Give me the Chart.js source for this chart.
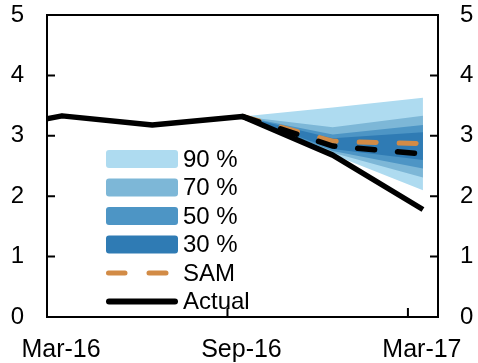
<!DOCTYPE html>
<html>
<head>
<meta charset="utf-8">
<script src="https://cdn.jsdelivr.net/npm/chart.js@4/dist/chart.umd.min.js"></script>
<style>
  html, body { margin: 0; padding: 0; background: #ffffff; }
  #wrap { width: 478px; height: 363px; position: relative; }
</style>
</head>
<body>
<div id="wrap"><canvas id="fan"></canvas></div>
<script>
// Quarterly observations (month offsets from Mar-16)
const actualQuarters = ['Dec-15', 'Mar-16', 'Jun-16', 'Sep-16', 'Dec-16', 'Mar-17'];
const actualMonths   = [-3, 0, 3, 6, 9, 12];
const actualValues   = [3.05, 3.33, 3.18, 3.32, 2.68, 1.78];

// Forecast horizon
const forecastQuarters = ['Sep-16', 'Dec-16', 'Mar-17'];
const forecastMonths   = [6, 9, 12];
const medianForecast   = [3.32, 2.83, 2.70];
const samForecast      = [3.32, 2.91, 2.87];

// Fan bands: upper and lower bounds
const upper90 = [3.32, 3.47, 3.63];
const lower90 = [3.32, 2.69, 2.10];
const upper70 = [3.32, 3.14, 3.33];
const lower70 = [3.32, 2.72, 2.31];
const upper50 = [3.32, 3.02, 3.18];
const lower50 = [3.32, 2.75, 2.46];
const upper30 = [3.32, 2.96, 3.06];
const lower30 = [3.32, 2.78, 2.60];

// Axis ticks
const xTickMonths = [-0.5, 5.5, 11.5];
const xTickLabels = ['Mar-16', 'Sep-16', 'Mar-17'];
const yTicks = [0, 1, 2, 3, 4, 5];

const bandColors = { b90: '#AEDBF0', b70: '#7DB7D7', b50: '#4D95C5', b30: '#2F7BB4' };
const samColor = '#D28B46';
const FONT = 'Liberation Sans, Arial, sans-serif';

const pts = (xs, ys) => xs.map((x, i) => ({ x: x, y: ys[i] }));

function band(label, upper, lower, color) {
  return [
    { label: label, data: pts(forecastMonths, upper), borderWidth: 0, pointRadius: 0,
      backgroundColor: color, fill: '+1' },
    { label: label + ' low', data: pts(forecastMonths, lower), borderWidth: 0, pointRadius: 0,
      backgroundColor: color, fill: false }
  ];
}

const datasets = [
  { label: 'Actual', data: pts(actualMonths, actualValues), borderColor: '#000000',
    borderWidth: 5.5, pointRadius: 0, fill: false, borderJoinStyle: 'round', clip: 0 },
  { label: 'Median', data: pts(forecastMonths, medianForecast), borderColor: '#000000',
    borderWidth: 5.5, borderDash: [17, 23], borderCapStyle: 'round', pointRadius: 0, fill: false },
  { label: 'SAM', data: pts(forecastMonths, samForecast), borderColor: samColor,
    borderWidth: 5, borderDash: [17, 23], borderCapStyle: 'round', pointRadius: 0, fill: false },
  ...band('30 %', upper30, lower30, bandColors.b30),
  ...band('50 %', upper50, lower50, bandColors.b50),
  ...band('70 %', upper70, lower70, bandColors.b70),
  ...band('90 %', upper90, lower90, bandColors.b90)
];

// Frame around the plot with inward tick marks
const framePlugin = {
  id: 'frame',
  afterDraw(chart) {
    const { ctx, chartArea: a, scales } = chart;
    ctx.save();
    ctx.strokeStyle = '#000000';
    ctx.lineWidth = 2;
    ctx.strokeRect(a.left, a.top, a.right - a.left, a.bottom - a.top);
    ctx.beginPath();
    yTicks.forEach(v => {
      const y = scales.y.getPixelForValue(v);
      ctx.moveTo(a.left, y); ctx.lineTo(a.left + 8, y);
      ctx.moveTo(a.right, y); ctx.lineTo(a.right - 8, y);
    });
    xTickMonths.forEach(m => {
      const x = scales.x.getPixelForValue(m);
      ctx.moveTo(x, a.bottom); ctx.lineTo(x, a.bottom - 9);
    });
    ctx.stroke();
    ctx.restore();
  }
};

// Legend drawn inside the plot area
const legendPlugin = {
  id: 'insideLegend',
  afterDraw(chart) {
    const { ctx, chartArea: a } = chart;
    const x0 = a.left + 59, y0 = a.top + 144, step = 28.5, w = 72, h = 18;
    const items = [
      { text: '90 %', box: bandColors.b90 },
      { text: '70 %', box: bandColors.b70 },
      { text: '50 %', box: bandColors.b50 },
      { text: '30 %', box: bandColors.b30 },
      { text: 'SAM', dash: samColor },
      { text: 'Actual', line: '#000000' }
    ];
    ctx.save();
    ctx.font = '24px ' + FONT;
    ctx.textBaseline = 'middle';
    items.forEach((it, i) => {
      const cy = y0 + i * step;
      if (it.box) {
        ctx.fillStyle = it.box;
        ctx.beginPath();
        ctx.roundRect(x0, cy - h / 2, w, h, 3);
        ctx.fill();
      } else if (it.dash) {
        ctx.strokeStyle = it.dash;
        ctx.lineWidth = 5;
        ctx.lineCap = 'round';
        ctx.beginPath();
        ctx.moveTo(x0 + 2.5, cy); ctx.lineTo(x0 + 19, cy);
        ctx.moveTo(x0 + 43, cy); ctx.lineTo(x0 + 60, cy);
        ctx.stroke();
      } else if (it.line) {
        ctx.strokeStyle = it.line;
        ctx.lineWidth = 6;
        ctx.lineCap = 'round';
        ctx.beginPath();
        ctx.moveTo(x0 + 3, cy); ctx.lineTo(x0 + w - 3, cy);
        ctx.stroke();
      }
      ctx.fillStyle = '#000000';
      ctx.fillText(it.text, x0 + w + 5, cy + 1);
    });
    ctx.restore();
  }
};

const yCommon = {
  type: 'linear', min: 0, max: 5,
  afterBuildTicks(s) { s.ticks = yTicks.map(v => ({ value: v })); },
  grid: { display: false, drawTicks: false },
  border: { display: false },
  ticks: { color: '#000000', font: { family: FONT, size: 24 } }
};

function fixY(width) {
  return function (s) { s.width = width; s.paddingTop = 0; s.paddingBottom = 0; };
}

new Chart(document.getElementById('fan'), {
  type: 'line',
  data: { datasets: datasets },
  plugins: [framePlugin, legendPlugin],
  options: {
    responsive: true,
    maintainAspectRatio: false,
    animation: false,
    layout: { padding: { top: 15, left: 0, right: 0, bottom: 0 } },
    plugins: { legend: { display: false }, tooltip: { enabled: false } },
    elements: { line: { tension: 0 } },
    scales: {
      x: {
        type: 'linear', min: -0.5, max: 12.5,
        afterBuildTicks(s) { s.ticks = xTickMonths.map(v => ({ value: v })); },
        afterFit(s) { s.height = 46; s.paddingLeft = 0; s.paddingRight = 0; },
        grid: { display: false, drawTicks: false },
        border: { display: false },
        ticks: {
          color: '#000000', font: { family: FONT, size: 25 }, padding: 18,
          labelOffset: 14, maxRotation: 0, autoSkip: false,
          callback: (v, i) => xTickLabels[i]
        }
      },
      y: Object.assign({}, yCommon, {
        position: 'left',
        afterFit: fixY(47),
        ticks: Object.assign({}, yCommon.ticks, { padding: 23 })
      }),
      y2: Object.assign({}, yCommon, {
        position: 'right',
        afterFit: fixY(40),
        ticks: Object.assign({}, yCommon.ticks, { padding: 22 })
      })
    }
  }
});
</script>
</body>
</html>
